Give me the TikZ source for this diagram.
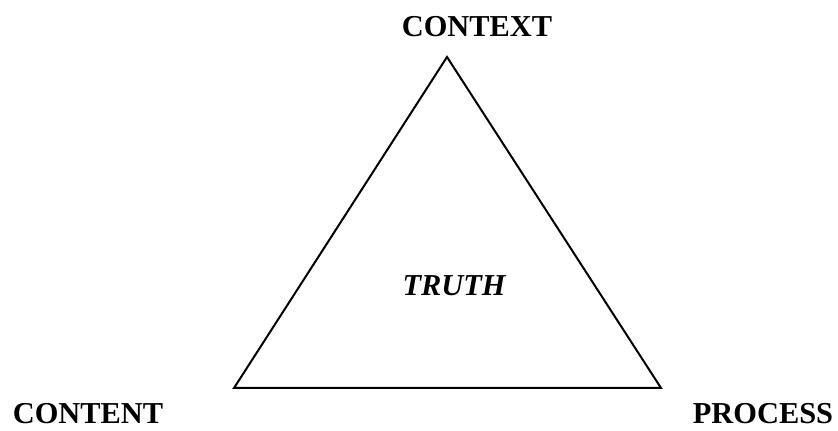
\documentclass[tikz,border=0pt]{standalone}
\usepackage{fontspec}
\setmainfont{Liberation Serif}
\usetikzlibrary{positioning}

\begin{document}
\begin{tikzpicture}[x=0.5pt,y=-0.5pt,lbl/.style={font=\fontsize{15.2}{18}\selectfont\bfseries,inner sep=0pt}]
\useasboundingbox (0,0) rectangle (838,431);
\coordinate (top) at (447,57);
\coordinate (bl) at (234,388);
\coordinate (br) at (661,388);
\draw[line width=1pt,line join=miter] (top)--(br)--(bl)--cycle;
\node[lbl] (context) at (477,26.5) {CONTEXT};
\node[lbl] (content) at (88,414) {CONTENT};
\node[lbl] (process) at (763,414) {PROCESS};
\node[lbl,font=\fontsize{15.2}{18}\selectfont\bfseries\itshape] (truth) at (454,286) {TRUTH};
\end{tikzpicture}
\end{document}
